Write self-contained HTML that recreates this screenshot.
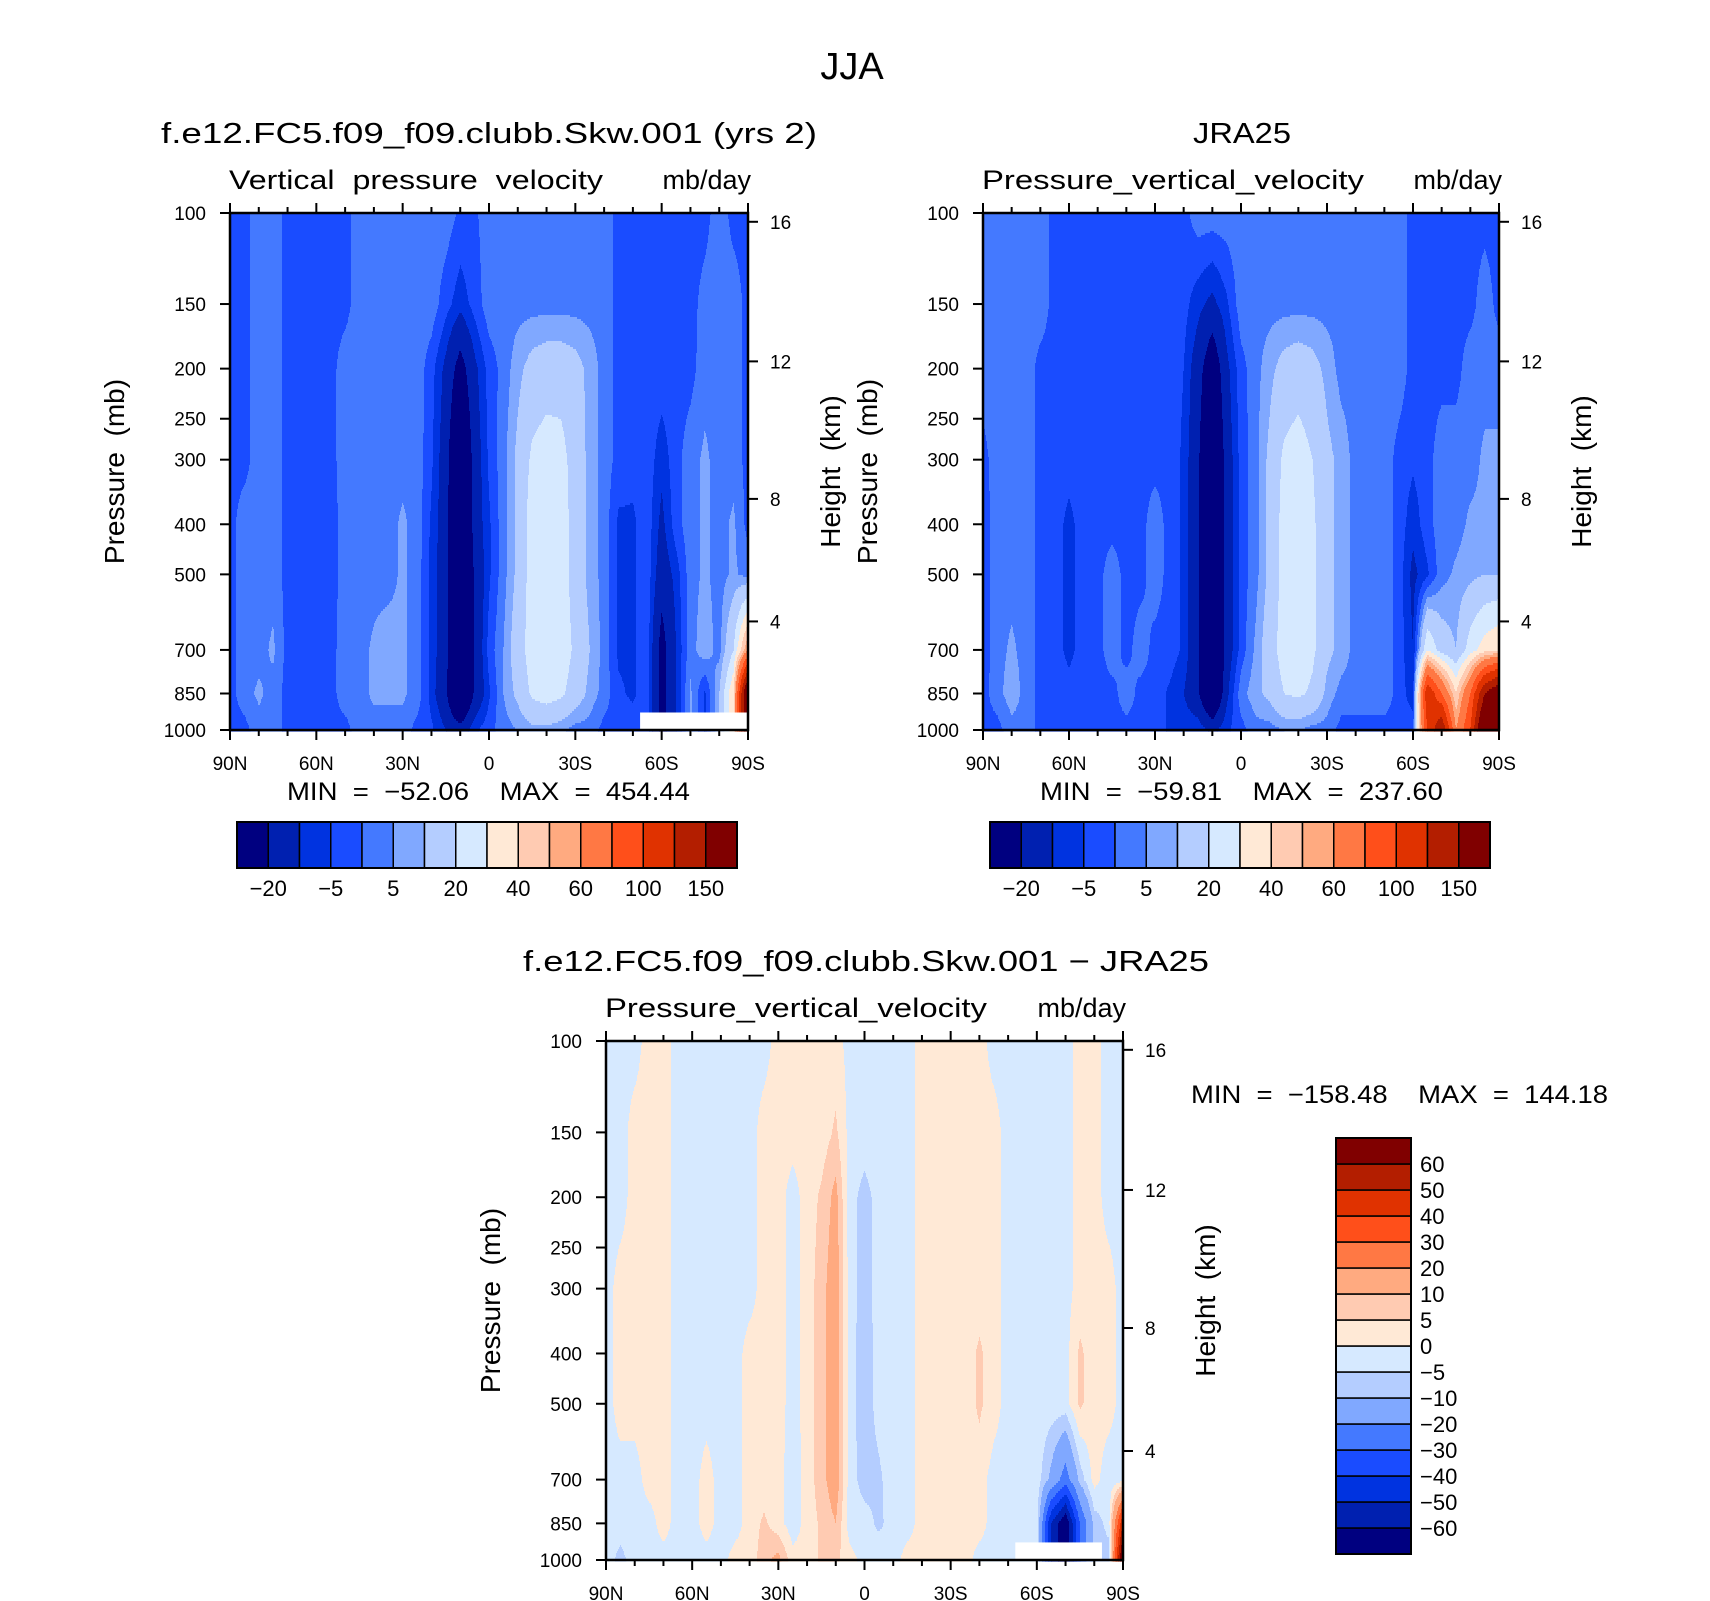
<!DOCTYPE html>
<html><head><meta charset="utf-8"><title>JJA vertical pressure velocity</title>
<style>
html,body{margin:0;padding:0;background:#fff;}
svg{display:block;font-family:"Liberation Sans",sans-serif;}
</style></head>
<body>
<svg id="fig" width="1710" height="1601" viewBox="0 0 1710 1601" xmlns="http://www.w3.org/2000/svg">
<rect x="0" y="0" width="1710" height="1601" fill="#fff"/>
<text x="852" y="79" font-size="38" text-anchor="middle">JJA</text>
</svg>
<script>
// ---------- data ----------
const lats = ["90N","60N","30N","0","30S","60S","90S"];
const pressureLevels = [100,150,200,300,400,500,700,850,1000];
const pressureTicks = [100,150,200,250,300,400,500,700,850,1000];
const heightTicks = ["16","12","8","4"];
const heightTickFrac = [0.017,0.287,0.553,0.79];
const levelsAbs = [-20,-10,-5,0,5,10,20,30,40,50,60,80,100,125,150];
const levelsAbsLabels = ["-20","-5","5","20","40","60","100","150"];
const levelsDiff = [-60,-50,-40,-30,-20,-10,-5,0,5,10,20,30,40,50,60];
const levelsDiffLabels = ["-60","-50","-40","-30","-20","-10","-5","0","5","10","20","30","40","50","60"];
const palette = ["#000080","#0020b0","#0033e0","#1a4cff","#4479ff","#80a8ff","#b4cdff","#d6e9ff","#ffe9d6","#ffcbb2","#ffaa80","#ff7844","#ff4f1a","#e03200","#b31e00","#800000"];
// model field: rows = pressureLevels, columns = 90N..90S every 5 deg
const modelField = [
[-2,-2,3,3,-2,-2,-2,-2,-2,3,3,3,3,3,3,3,-1,-1,3,3,3,3,3,3,3,3,3,-2,-2,-2,-2,-2,-2,-2,3,-2,-2],
[-2,-2,3,3,-2,-2,-2,-2,-2,3,3,3,3,3,3,-3,-8,-3,3,3,3,3,3,3,3,3,3,-2,-2,-2,-2,-2,-2,2,3,3,-2],
[-2,-2,3,3,-2,-2,-2,-2,3,3,3,3,3,3,-3,-12,-25,-12,-3,2,8,13,15,15,13,8,3,-2,-2,-2,-2,-2,-2,3,3,3,-2],
[-2,-2,3,3,-2,-2,-2,-2,3,3,3,3,3,3,-4,-15,-40,-15,-4,3,12,22,25,24,15,8,3,-2,-3,-2,-8,-2,3,6,3,3,-2],
[-2,3,3,3,-2,-2,-2,-3,3,3,3,3,6,3,-6,-15,-45,-15,-6,3,12,25,28,26,15,8,3,-6,-6,-2,-12,-2,3,6,3,6,-2],
[-2,3,3,3,-2,-3,-3,-3,3,3,3,3,6,3,-7,-15,-50,-18,-6,3,12,25,28,26,15,8,3,-6,-6,-2,-15,-8,3,6,3,6,3],
[-2,3,3,6,-2,-3,-3,-2,3,3,6,8,6,3,-7,-15,-50,-18,-3,5,15,25,28,26,18,10,3,-6,-6,-2,-25,-10,3,8,3,20,60],
[-2,3,6,3,-2,-3,-3,-2,3,3,6,6,6,3,-7,-18,-45,-18,-6,5,12,22,25,22,15,8,3,-4,-6,-2,-25,-10,6,-6,10,40,200],
[-2,-2,3,3,-2,-2,-2,-2,-2,3,3,3,3,-2,-4,-10,-15,-6,-2,3,5,8,8,6,3,3,-2,-2,-2,null,null,null,null,null,null,null,null]
];
const obsField = [
[3,3,3,3,3,-2,-2,-2,-2,-2,-2,-2,-2,-2,-2,3,3,3,3,3,3,3,3,3,3,3,3,3,3,3,-2,-2,-2,-2,-2,-2,-2],
[3,3,3,3,3,-2,-2,-2,-2,-2,-2,-2,-2,-2,-3,-8,-12,-6,3,3,3,3,3,3,3,3,3,3,3,3,-2,-2,-2,-2,-2,3,-2],
[3,3,3,3,-2,-2,-2,-2,-2,-2,-2,-2,-2,-2,-5,-15,-30,-12,-2,3,8,13,15,13,8,3,3,3,3,3,-2,-2,-2,-2,3,3,3],
[-2,3,3,3,-2,-2,-2,-2,-2,-2,-2,-2,-2,-2,-6,-18,-40,-15,-3,3,12,22,25,20,12,8,3,3,3,-2,-4,-2,3,3,3,6,6],
[-3,3,3,3,-2,-2,-7,-2,-2,-2,-2,-2,3,-2,-6,-18,-45,-15,-3,3,12,24,26,22,12,8,3,3,3,-2,-8,-2,3,3,6,6,8],
[-3,3,3,3,-2,-2,-7,-2,-2,3,-2,-2,3,-2,-6,-18,-45,-15,-3,3,12,24,26,22,12,8,3,3,3,-2,-12,-6,3,6,8,10,10],
[-3,3,6,3,-2,-2,-7,-2,-2,3,-2,3,-2,-2,-6,-18,-45,-15,-3,6,15,25,28,22,12,8,3,3,3,-2,-10,30,15,10,25,35,40],
[-2,3,8,3,-2,-2,-2,-2,-2,-2,3,-2,-2,-6,-10,-18,-40,-12,3,8,12,20,22,18,8,3,3,3,3,-2,-8,120,80,40,80,150,180],
[-2,-2,3,3,-2,-2,-2,-2,-2,-2,-2,-2,-2,-6,-6,-6,-12,-6,-2,3,3,5,5,3,3,-2,-2,-2,-2,-2,-2,100,150,60,100,200,200]
];
const diffField = [
[-2,-2,-2,2,2,-2,-2,-2,-2,-2,-2,-2,2,2,2,2,2,-2,-2,-2,-2,-2,2,2,2,2,2,-2,-2,-2,-2,-2,-2,2,2,-2,-2],
[-2,-2,2,2,2,-2,-2,-2,-2,-2,-2,2,2,2,2,2,6,-2,-2,-2,-2,-2,2,2,2,2,2,2,-2,-2,-2,-2,-2,2,2,-2,-2],
[-2,-2,2,2,2,-2,-2,-2,-2,-2,-2,2,2,-2,2,6,12,-3,-7,-3,-2,-2,2,2,2,2,2,2,-2,-2,-2,-2,-2,2,2,-2,-2],
[-2,2,2,2,2,-2,-2,-2,-2,-2,-2,2,2,-2,2,8,14,-3,-7,-3,-2,-2,2,2,2,2,2,2,-2,-2,-2,-2,-2,2,2,2,-2],
[-2,2,2,2,2,-2,-2,-2,-2,-2,2,2,2,-2,2,8,14,-3,-8,-3,-2,-2,2,2,2,2,6,2,-2,-2,-2,-2,-2,6,2,2,-2],
[-2,2,2,2,2,-2,-2,-2,-2,-2,2,2,2,-2,2,8,14,-3,-8,-3,-2,-2,2,2,2,2,6,2,-2,-2,-2,-2,-2,6,2,2,-2],
[-2,-2,-2,2,2,-2,-2,2,-2,-2,2,2,2,-3,2,8,14,-3,-7,-6,-2,-2,2,2,2,2,2,-2,-2,-2,-2,-12,-25,-8,2,-3,-2],
[-2,-2,-2,-2,2,-2,-2,2,-2,-2,2,6,2,-3,2,6,10,-3,-3,-6,-3,-2,2,2,2,2,2,-2,-2,-3,-2,-50,-70,-30,-8,-3,50],
[-2,-7,-2,-2,-2,-2,-2,-2,-2,2,2,8,12,2,2,6,6,2,-2,-2,-2,2,2,2,2,2,-2,-2,-3,null,null,null,null,null,null,-8,80]
];
// ---------- drawing ----------
const NS="http://www.w3.org/2000/svg";
const svg=document.getElementById('fig');
function mk(tag,attrs,parent){const e=document.createElementNS(NS,tag);for(const k in attrs)e.setAttribute(k,attrs[k]);(parent||svg).appendChild(e);return e;}
function txt(s,attrs,parent){const e=mk('text',attrs,parent);e.textContent=s;return e;}
const minus=s=>s.replace(/-/g,"\u2212");
const NB="\u00a0";
function yFrac(p){return Math.log10(p/100);}
function bin(v,levels){let k=0;for(const l of levels)if(v>=l)k++;return k;}
function sample(field,fx,fy){
  const nc=field[0].length-1;const cx=fx*nc;let c0=Math.floor(cx);if(c0>=nc)c0=nc-1;const tx=cx-c0;
  const rf=pressureLevels.map(yFrac);let r0=0;while(r0<rf.length-2&&fy>rf[r0+1])r0++;
  const ty=Math.min(1,Math.max(0,(fy-rf[r0])/(rf[r0+1]-rf[r0])));
  const g=(r,c)=>{let v=field[r][c];let rr=r;while(v===null&&rr>0){rr--;v=field[rr][c];}return v;};
  const a=g(r0,c0),b=g(r0,c0+1),c=g(r0+1,c0),d=g(r0+1,c0+1);
  return (a*(1-tx)+b*tx)*(1-ty)+(c*(1-tx)+d*tx)*ty;
}
function panel(o){
  const G=mk('g',{});  
  const W=o.R-o.L,H=o.B-o.T;
  const F=mk('g',{},G);  
  const dy=2;
  for(let y=0;y<H;y+=dy){
    const fy=(y+dy/2)/H;let runStart=0,runCol=null;
    for(let x=0;x<=W;x++){
      let col=null;
      if(x<W){col=palette[bin(sample(o.field,(x+0.5)/W,fy),o.levels)];}
      if(col!==runCol){
        if(runCol!==null){mk('rect',{x:o.L+runStart,y:o.T+y,width:x-runStart+0.6,height:dy+0.6,fill:runCol},F);}
        runStart=x;runCol=col;
      }
    }
  }
  const nc=o.field[0].length-1;const last=o.field[o.field.length-1];
  last.forEach((v,c)=>{if(v===null){
    const x0=Math.max(0,(c-0.5)/nc)*W,x1=Math.min(1,(c+0.5)/nc)*W;const y0=yFrac(925)*H;
    const m=mk('rect',{x:o.L+x0,y:o.T+y0,width:x1-x0+0.5,height:H-y0,fill:'#fff'},F);
     
  }});
  const fr=mk('rect',{x:o.L,y:o.T,width:W,height:H,fill:'none',stroke:'#000','stroke-width':2.5},G);
   
  for(let k=0;k<=18;k++){
    const x=o.L+W*k/18;const major=k%3===0;const len=major?10:6;
    mk('line',{x1:x,x2:x,y1:o.B,y2:o.B+len,stroke:'#000','stroke-width':2},G);
    mk('line',{x1:x,x2:x,y1:o.T,y2:o.T-len,stroke:'#000','stroke-width':2},G);
  }
  lats.forEach((s,i)=>{const t=txt(s,{x:o.L+W*i/6,y:o.B+40,'font-size':19,'text-anchor':'middle'},G);
     });
  pressureTicks.forEach(p=>{const y=o.T+H*yFrac(p);
    mk('line',{x1:o.L-10,x2:o.L,y1:y,y2:y,stroke:'#000','stroke-width':2},G);
    const t=txt(String(p),{x:o.L-24,y:y+7,'font-size':19,'text-anchor':'end'},G);
     });
  heightTicks.forEach((h,i)=>{const y=o.T+H*heightTickFrac[i];
    mk('line',{x1:o.R,x2:o.R+10,y1:y,y2:y,stroke:'#000','stroke-width':2},G);
    const t=txt(h,{x:o.R+22,y:y+7,'font-size':19},G);
     });
  const cy=(o.T+o.B)/2;
  const yt=txt("Pressure"+NB+NB+"(mb)",{x:0,y:0,'font-size':28,'text-anchor':'middle',transform:`translate(${o.L-106},${cy}) rotate(-90)`},G);
   
  const ht=txt("Height"+NB+NB+"(km)",{x:0,y:0,'font-size':28,'text-anchor':'middle',transform:`translate(${o.R+92},${cy}) rotate(-90)`},G);
   
  const tt=txt(o.title,{x:o.titleX,y:o.T-70,'font-size':29,'text-anchor':'middle',textLength:o.titleW,lengthAdjust:'spacingAndGlyphs'},G);
   
  const st=txt(o.sub,{x:o.L-1,y:o.T-24,'font-size':27,textLength:o.subW,lengthAdjust:'spacingAndGlyphs'},G);
   
  const ut=txt("mb/day",{x:o.R+3,y:o.T-24,'font-size':27,'text-anchor':'end'},G);
   
}
panel({name:'model-panel',field:modelField,levels:levelsAbs,L:230,R:748,T:213,B:730,
  title:"f.e12.FC5.f09_f09.clubb.Skw.001 (yrs 2)",titleX:489,titleW:656,sub:"Vertical"+NB+" pressure"+NB+" velocity",subW:374});
panel({name:'obs-panel',field:obsField,levels:levelsAbs,L:983,R:1499,T:213,B:730,
  title:"JRA25",titleX:1242,titleW:98,sub:"Pressure_vertical_velocity",subW:382});
panel({name:'diff-panel',field:diffField,levels:levelsDiff,L:606,R:1123,T:1041,B:1560,
  title:"f.e12.FC5.f09_f09.clubb.Skw.001 \u2212 JRA25",titleX:866,titleW:686,sub:"Pressure_vertical_velocity",subW:382});
const sp=n=>NB.repeat(n);
[["MIN"+sp(2)+"="+sp(2)+"\u221252.06"+sp(4)+"MAX"+sp(2)+"="+sp(2)+"454.44",287,791,403],
 ["MIN"+sp(2)+"="+sp(2)+"\u221259.81"+sp(4)+"MAX"+sp(2)+"="+sp(2)+"237.60",1040,791,403],
 ["MIN"+sp(2)+"="+sp(2)+"\u2212158.48"+sp(4)+"MAX"+sp(2)+"="+sp(2)+"144.18",1191,1094,417]].forEach(m=>{
  const t=txt(m[0],{x:m[1],y:m[2]+9,'font-size':25,textLength:m[3],lengthAdjust:'spacingAndGlyphs'});
   
});
function hbar(x0,x1,y0,y1,name){
  const g=mk('g',{});
  const w=(x1-x0)/palette.length;
  palette.forEach((c,i)=>{const r=mk('rect',{x:x0+i*w,y:y0,width:w,height:y1-y0,fill:c,stroke:'#000','stroke-width':1.5},g);
    });
  mk('rect',{x:x0,y:y0,width:x1-x0,height:y1-y0,fill:'none',stroke:'#000','stroke-width':2},g);
  levelsAbsLabels.forEach((s,j)=>{const k=levelsAbs.indexOf(Number(s))+1;
    const t=txt(minus(s),{x:x0+k*w,y:y1+28,'font-size':22,'text-anchor':'middle'},g);
    });
}
hbar(237,737,822,868,'model-colorbar');
hbar(990,1490,822,868,'obs-colorbar');
(function(){
  const g=mk('g',{});
  const x0=1336,x1=1411,y0=1138,y1=1554;const h=(y1-y0)/palette.length;
  palette.forEach((c,i)=>{const r=mk('rect',{x:x0,y:y1-(i+1)*h,width:x1-x0,height:h,fill:c,stroke:'#000','stroke-width':1.5},g);
    });
  mk('rect',{x:x0,y:y0,width:x1-x0,height:y1-y0,fill:'none',stroke:'#000','stroke-width':2},g);
  levelsDiffLabels.forEach((s,k)=>{const y=y1-(k+1)*h;
    const t=txt(minus(s),{x:1420,y:y+8,'font-size':22},g);
    });
})();
</script>
</body></html>
